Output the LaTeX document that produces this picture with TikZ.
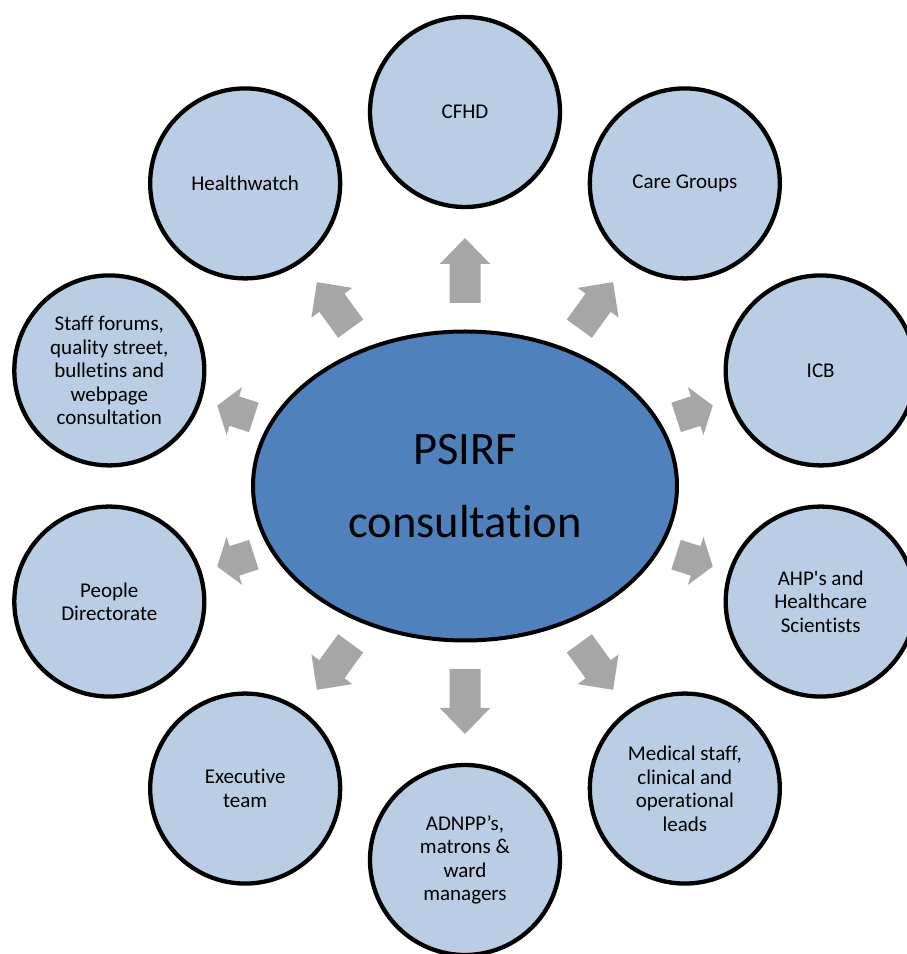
\documentclass[tikz,border=0pt]{standalone}
\usepackage{fontspec}
\setmainfont{Carlito}[Ligatures={NoCommon,NoContextual,NoRare},Contextuals={NoAlternate}]
\usetikzlibrary{shapes.geometric,calc}
\definecolor{hubblue}{HTML}{4F81BD}
\definecolor{satblue}{HTML}{B9CDE5}
\definecolor{spokegray}{HTML}{A6A6A6}

% Block arrow pointing from the hub towards a satellite node.
% #1 target node, #2 tail distance, #3 head-base distance, #4 tip distance (all from hub centre)
\newcommand\spokearrow[4]{%
  \path ($(hub)!#2!(#1)$) coordinate (st)
        ($(hub)!#3!(#1)$) coordinate (sb)
        ($(hub)!#4!(#1)$) coordinate (sp);
  \fill[spoke] ($(st)!15.5pt!90:(sp)$) -- ($(sb)!15.5pt!90:(sp)$)
    -- ($(sb)!25.25pt!90:(sp)$) -- (sp) -- ($(sb)!25.25pt!-90:(sp)$)
    -- ($(sb)!15.5pt!-90:(sp)$) -- ($(st)!15.5pt!-90:(sp)$) -- cycle;
}

\begin{document}
\begin{tikzpicture}[x=1pt,y=1pt,
  hubnode/.style={ellipse, draw=black, line width=4pt, fill=hubblue,
    minimum width=424pt, minimum height=309pt, inner sep=0pt, align=center,
    font=\fontsize{46.5}{73}\selectfont},
  satnode/.style={circle, draw=black, line width=4.3pt, fill=satblue,
    minimum size=190pt, inner sep=0pt, align=center,
    font=\fontsize{21}{23.5}\selectfont},
  spoke/.style={fill=spokegray}]
\useasboundingbox (0,0) rectangle (906,954);

% central ellipse
\node[hubnode] (hub) at (465,468) {PSIRF\\consultation};

% satellites, evenly spaced on a ring around the hub
\node[satnode] (cfhd)   at ($(hub)+(90:374)$)   {CFHD};
\node[satnode] (care)   at ($(hub)+(54:374)$)   {Care Groups};
\node[satnode] (icb)    at ($(hub)+(18:374)$)   {ICB};
\node[satnode] (ahp)    at ($(hub)+(-18:374)$)  {AHP\textquotesingle s and\\Healthcare\\Scientists};
\node[satnode] (med)    at ($(hub)+(-54:374)$)  {Medical staff,\\clinical and\\operational\\leads};
\node[satnode] (adnpp)  at ($(hub)+(-90:374)$)  {ADNPP’s,\\matrons \&\\ward\\managers};
\node[satnode] (exec)   at ($(hub)+(-126:374)$) {Executive\\team};
\node[satnode] (people) at ($(hub)+(-162:374)$) {People\\Directorate};
\node[satnode] (staff)  at ($(hub)+(162:374)$)  {Staff forums,\\quality street,\\bulletins and\\webpage\\consultation};
\node[satnode] (health) at ($(hub)+(126:374)$)  {Healthwatch};

% spoke arrows
\spokearrow{cfhd}{183pt}{222pt}{248pt}
\spokearrow{adnpp}{183pt}{222pt}{248pt}
\spokearrow{care}{194.5pt}{226.5pt}{252pt}
\spokearrow{med}{194.5pt}{226.5pt}{252pt}
\spokearrow{exec}{194.5pt}{226.5pt}{252pt}
\spokearrow{health}{194.5pt}{226.5pt}{252pt}
\spokearrow{icb}{222pt}{242.5pt}{260.5pt}
\spokearrow{ahp}{222pt}{242.5pt}{260.5pt}
\spokearrow{people}{222pt}{242.5pt}{260.5pt}
\spokearrow{staff}{222pt}{242.5pt}{260.5pt}
\end{tikzpicture}
\end{document}
